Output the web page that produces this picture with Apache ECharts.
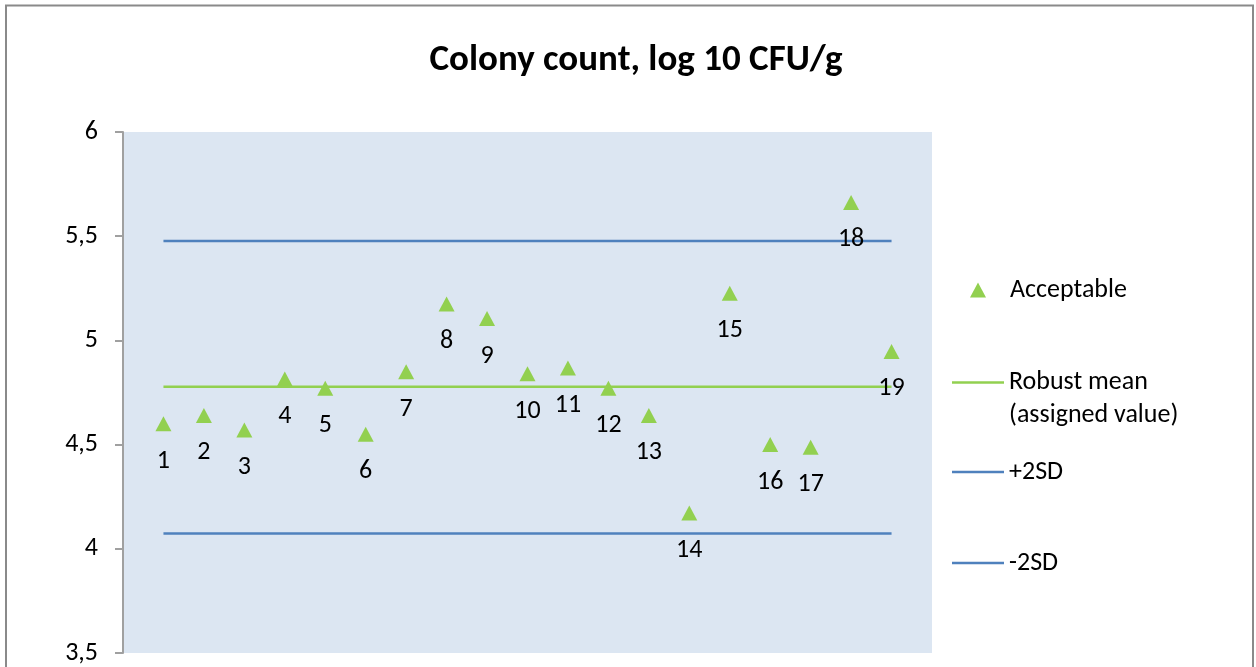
<!DOCTYPE html>
<html>
<head>
<meta charset="utf-8">
<script src="https://cdn.jsdelivr.net/npm/echarts@6/dist/echarts.min.js"></script>
<style>
html,body{margin:0;padding:0;background:#fff;}
#chart{width:1256px;height:667px;}
</style>
</head>
<body>
<div id="chart"></div>
<script>
// ---- data ----
const participants = ['1','2','3','4','5','6','7','8','9','10','11','12','13','14','15','16','17','18','19'];
const results = [4.60, 4.64, 4.57, 4.815, 4.77, 4.55, 4.85, 5.175, 5.105, 4.84, 4.867, 4.77, 4.64, 4.172, 5.226, 4.50, 4.487, 5.662, 4.947];
const robustMean = 4.777;
const plus2SD = 5.477;
const minus2SD = 4.074;
const refLineX = [1, 19];
const yTicks = { min: 3.5, max: 6, interval: 0.5 };
const titleText = 'Colony count, log 10 CFU/g';
const seriesNames = ['Acceptable', 'Robust mean (assigned value)', '+2SD', '-2SD'];

const FONT = 'Carlito, Lato, sans-serif';
const GREEN = '#92D050';
const BLUE = '#4F81BD';
const FS = 26;

const chart = echarts.init(document.getElementById('chart'), null, { renderer: 'canvas' });

const scatterData = participants.map((p, i) => ({ name: p, value: [i + 1, results[i]] }));
const refLine = v => refLineX.map(x => [x, v]);

const legendText = { fontFamily: FONT, fontSize: FS, color: '#000', lineHeight: 30 };
const lineLegend = {
  left: 952, padding: 0, itemWidth: 52, itemHeight: 2.5, icon: 'rect',
  textStyle: legendText, selectedMode: false
};

chart.setOption({
  animation: false,
  backgroundColor: '#fff',
  title: {
    text: titleText, left: 631, top: 37, textAlign: 'center',
    textStyle: { fontFamily: FONT, fontSize: 37, fontWeight: 'bold', color: '#000' }
  },
  graphic: [{
    type: 'rect', shape: { x: 6, y: 5.5, width: 1247, height: 700 },
    style: { fill: 'none', stroke: '#8a8a8a', lineWidth: 2 }, silent: true, z: -1
  }],
  grid: { left: 123, top: 132, right: 324, bottom: 14, show: true, backgroundColor: '#DCE6F2', borderWidth: 0 },
  xAxis: { type: 'value', min: 0, max: 20, show: false },
  yAxis: {
    type: 'value', min: yTicks.min, max: yTicks.max, interval: yTicks.interval,
    axisLine: { show: true, lineStyle: { color: '#a0a0a0', width: 2 } },
    axisTick: { show: true, inside: false, length: 8, lineStyle: { color: '#a0a0a0', width: 2 } },
    splitLine: { show: false },
    axisLabel: {
      margin: 25, fontFamily: FONT, fontSize: FS, color: '#000',
      formatter: v => String(v).replace('.', ',')
    }
  },
  legend: [
    {
      left: 970, top: 275, padding: 0, itemWidth: 16, itemHeight: 15, selectedMode: false,
      data: [{ name: seriesNames[0], icon: 'triangle' }],
      textStyle: Object.assign({}, legendText, { padding: [0, 0, 0, 19] })
    },
    Object.assign({}, lineLegend, {
      top: 333, data: [seriesNames[1]],
      formatter: () => ' \nRobust mean\n(assigned value)',
      textStyle: Object.assign({}, legendText, { lineHeight: 33 })
    }),
    Object.assign({}, lineLegend, { top: 457, data: [seriesNames[2]] }),
    Object.assign({}, lineLegend, { top: 548, data: [seriesNames[3]] })
  ],
  series: [
    {
      name: seriesNames[1], type: 'line', data: refLine(robustMean), symbol: 'none',
      lineStyle: { color: GREEN, width: 2.5 }, itemStyle: { color: GREEN }, z: 2
    },
    {
      name: seriesNames[2], type: 'line', data: refLine(plus2SD), symbol: 'none',
      lineStyle: { color: BLUE, width: 2.5 }, itemStyle: { color: BLUE }, z: 2
    },
    {
      name: seriesNames[3], type: 'line', data: refLine(minus2SD), symbol: 'none',
      lineStyle: { color: BLUE, width: 2.5 }, itemStyle: { color: BLUE }, z: 2
    },
    {
      name: seriesNames[0], type: 'scatter', data: scatterData,
      symbol: 'triangle', symbolSize: [16, 15],
      itemStyle: { color: GREEN, opacity: 1 }, z: 3,
      label: {
        show: true, position: 'bottom', distance: 17,
        fontFamily: FONT, fontSize: FS, color: '#000',
        formatter: p => p.name
      }
    }
  ]
});
</script>
</body>
</html>
